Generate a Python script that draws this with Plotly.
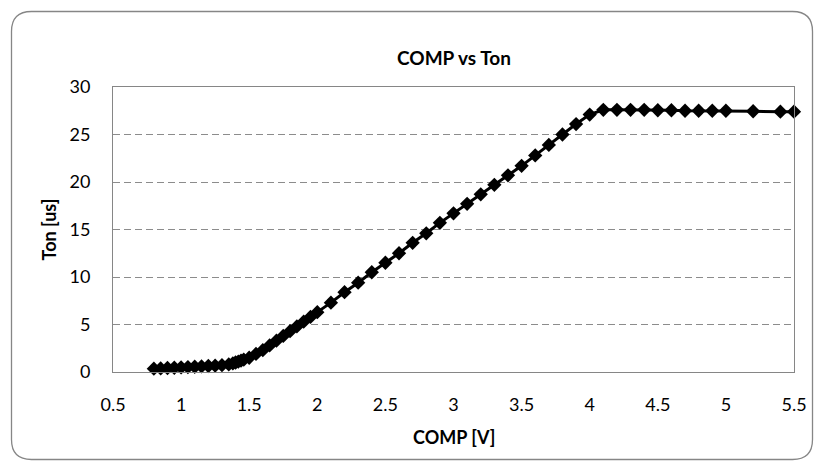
import plotly.graph_objects as go

# Data
comp_v = [0.80, 0.85, 0.90, 0.95, 1.00, 1.05, 1.10, 1.15, 1.20, 1.25, 1.30, 1.35,
          1.38, 1.40, 1.42, 1.44, 1.46,
          1.50, 1.55, 1.60, 1.65, 1.70, 1.75, 1.80, 1.85, 1.90, 1.95, 2.00,
          2.10, 2.20, 2.30, 2.40, 2.50, 2.60, 2.70, 2.80, 2.90, 3.00,
          3.10, 3.20, 3.30, 3.40, 3.50, 3.60, 3.70, 3.80, 3.90, 4.00,
          4.10, 4.20, 4.30, 4.40, 4.50, 4.60, 4.70, 4.80, 4.90, 5.00,
          5.20, 5.40, 5.50]
ton_us = [0.35, 0.38, 0.42, 0.45, 0.48, 0.52, 0.55, 0.59, 0.63, 0.67, 0.72, 0.80,
          0.90, 1.00, 1.10, 1.20, 1.30,
          1.50, 1.90, 2.30, 2.80, 3.30, 3.80, 4.30, 4.80, 5.30, 5.80, 6.30,
          7.30, 8.40, 9.40, 10.50, 11.50, 12.50, 13.60, 14.60, 15.70, 16.70,
          17.70, 18.70, 19.70, 20.70, 21.70, 22.80, 23.90, 25.00, 26.10, 27.10,
          27.60, 27.60, 27.60, 27.60, 27.55, 27.55, 27.50, 27.50, 27.50, 27.50,
          27.45, 27.40, 27.40]

x_ticks = [0.5, 1, 1.5, 2, 2.5, 3, 3.5, 4, 4.5, 5, 5.5]
y_ticks = [0, 5, 10, 15, 20, 25, 30]

title_text = "COMP vs Ton"
x_title = "COMP [V]"
y_title = "Ton [us]"

FONT = "Lato, Carlito, Calibri, sans-serif"

W, H = 819, 465
L, R, T, B = 113, 25, 87, 93
pw, ph = W - L - R, H - T - B


def px(x):
    return (x - L) / pw


def py(y):
    return (H - B - y) / ph


fig = go.Figure()
fig.add_trace(go.Scatter(
    x=comp_v, y=ton_us, mode="lines+markers",
    line=dict(color="black", width=3),
    marker=dict(symbol="diamond", size=11, color="black"),
    cliponaxis=False, showlegend=False,
))

axis_common = dict(
    showline=True, linecolor="#868686", linewidth=1, mirror=True,
    ticks="outside", tickcolor="rgba(0,0,0,0)",
    tickfont=dict(family=FONT, size=18, color="black"),
    zeroline=False,
)

fig.update_xaxes(range=[0.5, 5.5], tickvals=x_ticks,
                 ticktext=[f"{v:g}" for v in x_ticks],
                 showgrid=False, ticklen=16, **axis_common)
fig.update_yaxes(range=[0, 30], tickvals=y_ticks,
                 ticktext=[str(v) for v in y_ticks],
                 showgrid=True, gridcolor="#8c8c8c", griddash="7px,4px",
                 gridwidth=1, ticklen=18, **axis_common)

# Outer rounded border
x0, y0, x1, y1, r = 11.5, 11.5, 812.5, 459.5, 20


def P(x, y):
    return f"{px(x):.5f},{py(y):.5f}"


path = (f"M {P(x0 + r, y0)} L {P(x1 - r, y0)} Q {P(x1, y0)} {P(x1, y0 + r)} "
        f"L {P(x1, y1 - r)} Q {P(x1, y1)} {P(x1 - r, y1)} "
        f"L {P(x0 + r, y1)} Q {P(x0, y1)} {P(x0, y1 - r)} "
        f"L {P(x0, y0 + r)} Q {P(x0, y0)} {P(x0 + r, y0)} Z")
fig.add_shape(type="path", path=path, xref="paper", yref="paper",
              line=dict(color="#868686", width=1.3), layer="below")

fig.add_annotation(text=f"<b>{title_text}</b>", x=0.5, y=py(58),
                   xref="paper", yref="paper", showarrow=False,
                   xanchor="center", yanchor="middle",
                   font=dict(family=FONT, size=19, color="black"))
fig.add_annotation(text=f"<b>{x_title}</b>", x=0.5, y=py(437),
                   xref="paper", yref="paper", showarrow=False,
                   xanchor="center", yanchor="middle",
                   font=dict(family=FONT, size=18, color="black"))
fig.add_annotation(text=f"<b>{y_title}</b>", x=px(48), y=0.5,
                   xref="paper", yref="paper", showarrow=False,
                   xanchor="center", yanchor="middle", textangle=-90,
                   font=dict(family=FONT, size=18, color="black"))

fig.update_layout(
    width=W, height=H,
    margin=dict(l=L, r=R, t=T, b=B, pad=0),
    paper_bgcolor="white", plot_bgcolor="white",
    font=dict(family=FONT, color="black"),
)

fig.write_html("out.html")
